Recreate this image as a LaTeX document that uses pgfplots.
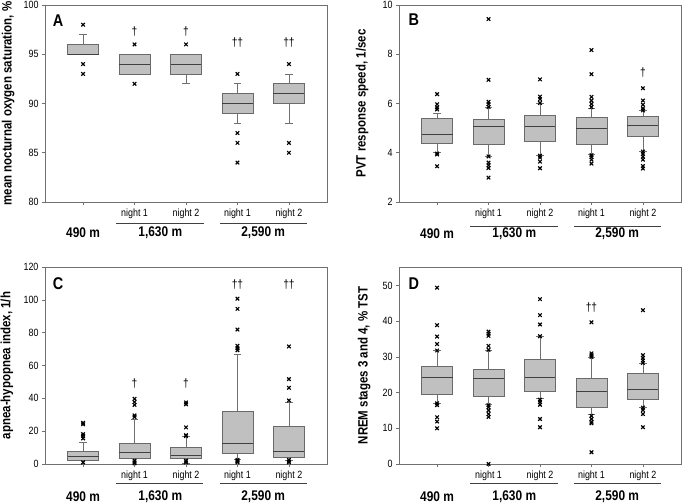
\documentclass[border=0pt]{standalone}
\usepackage{fontspec}
\setmainfont{Liberation Sans}[FakeStretch=0.85]
\usepackage{pgfplots}
\pgfplotsset{compat=1.18}
\usepgfplotslibrary{statistics}
\definecolor{boxgray}{HTML}{C0C0C0}
\definecolor{boxedge}{HTML}{6A6A6A}
\definecolor{meddark}{HTML}{404040}
\definecolor{whisk}{HTML}{707070}
\definecolor{axcol}{HTML}{707070}
\pgfplotsset{
  panel/.style={
    scale only axis, width=282pt, height=197pt, anchor=south west,
    xmin=-0.74, xmax=4.74,
    xtick={0,1,2,3,4}, xticklabels={,night 1,night 2,night 1,night 2},
    axis line style={draw=axcol, line width=0.7pt},
    tick style={draw=axcol, line width=0.6pt},
    tick align=outside, major tick length=3pt,
    xtick pos=bottom, ytick pos=left,
    tick label style={font=\fontsize{10.5}{12}\selectfont},
    ylabel style={font=\bfseries\fontsize{13.5}{15}\selectfont, anchor=center},
    /pgf/number format/assume math mode=true,
    clip=false,
    boxplot/draw direction=y,
    boxplot/box extend=0.6,
    boxplot/whisker extend=0.14,
    boxplot/every box/.style={fill=boxgray, draw=boxedge, line width=0.8pt},
    boxplot/every median/.style={draw=meddark, line width=0.9pt},
    boxplot/every whisker/.style={draw=whisk, line width=0.7pt},
  },
  bx/.style={black, mark=x, mark size=2.5pt, mark options={solid, black, line width=1.15pt}},
}
\newcommand{\groups}[2]{%
  \draw[black!75, line width=0.6pt] ({axis cs:0.64,0} |- {axis description cs:0,#1}) -- ({axis cs:2.34,0} |- {axis description cs:0,#1});
  \draw[black!75, line width=0.6pt] ({axis cs:2.66,0} |- {axis description cs:0,#1}) -- ({axis cs:4.36,0} |- {axis description cs:0,#1});
  \node[font=\bfseries\fontsize{14}{16}\selectfont] at ({axis cs:0,0} |- {axis description cs:0,#2}) {490 m};
  \node[font=\bfseries\fontsize{14}{16}\selectfont] at ({axis cs:1.5,0} |- {axis description cs:0,#2}) {1,630 m};
  \node[font=\bfseries\fontsize{14}{16}\selectfont] at ({axis cs:3.5,0} |- {axis description cs:0,#2}) {2,590 m};
}
\newcommand{\letter}[2]{\node[font=\bfseries\fontsize{17}{19}\selectfont] at (axis description cs:#1) {#2};}
\newcommand{\dg}[2]{\node[font=\fontsize{12}{14}\selectfont] at (axis cs:#1) {#2};}
\begin{document}
\begin{tikzpicture}
\useasboundingbox (0,0) rectangle (682pt,503pt);
% ---------------- A
\begin{axis}[panel, at={(45pt,301pt)}, ymin=80, ymax=100, ytick={80,85,90,95,100},
  ylabel={mean nocturnal oxygen saturation, \%}, ylabel style={at={(axis description cs:-0.131,0.5)}}]
\addplot[bx, boxplot prepared={draw position=0, lower whisker=95, lower quartile=95, median=95, upper quartile=96, upper whisker=97}] coordinates {(0,98) (0,94) (0,93)};
\addplot[bx, boxplot prepared={draw position=1, lower whisker=93, lower quartile=93, median=94, upper quartile=95, upper whisker=95}] coordinates {(1,96) (1,92)};
\addplot[bx, boxplot prepared={draw position=2, lower whisker=92, lower quartile=93, median=94, upper quartile=95, upper whisker=95}] coordinates {(2,96)};
\addplot[bx, boxplot prepared={draw position=3, lower whisker=88, lower quartile=89, median=90, upper quartile=91, upper whisker=92}] coordinates {(3,93) (3,87) (3,86) (3,84)};
\addplot[bx, boxplot prepared={draw position=4, lower whisker=88, lower quartile=90, median=91, upper quartile=92, upper whisker=93}] coordinates {(4,94) (4,86) (4,85)};
\dg{1,97.3}{†}\dg{2,97.3}{†}\dg{3,96.2}{††}\dg{4,96.2}{††}
\letter{0.046,0.92}{A}
\groups{-0.107}{-0.157}
\end{axis}
% ---------------- B
\begin{axis}[panel, at={(399pt,301pt)}, ymin=2, ymax=10, ytick={2,4,6,8,10},
  ylabel={PVT response speed, 1/sec}, ylabel style={at={(axis description cs:-0.131,0.5)}}]
\addplot[bx, boxplot prepared={draw position=0, lower whisker=4.0, lower quartile=4.37, median=4.74, upper quartile=5.40, upper whisker=5.62}] coordinates {(0,6.38) (0,5.97) (0,5.84) (0,5.76) (0,3.97) (0,3.93) (0,3.45)};
\addplot[bx, boxplot prepared={draw position=1, lower whisker=3.87, lower quartile=4.35, median=5.05, upper quartile=5.36, upper whisker=5.86}] coordinates {(1,9.43) (1,6.96) (1,6.07) (1,5.97) (1,5.86) (1,3.85) (1,3.6) (1,3.49) (1,3.38) (1,2.99)};
\addplot[bx, boxplot prepared={draw position=2, lower whisker=3.90, lower quartile=4.45, median=5.08, upper quartile=5.51, upper whisker=6.0}] coordinates {(2,6.98) (2,6.28) (2,6.18) (2,6.02) (2,3.88) (2,3.8) (2,3.64) (2,3.37)};
\addplot[bx, boxplot prepared={draw position=3, lower whisker=3.92, lower quartile=4.33, median=4.98, upper quartile=5.42, upper whisker=5.82}] coordinates {(3,8.17) (3,7.19) (3,6.27) (3,6.12) (3,5.98) (3,5.85) (3,3.9) (3,3.82) (3,3.72) (3,3.56)};
\addplot[bx, boxplot prepared={draw position=4, lower whisker=4.07, lower quartile=4.67, median=5.10, upper quartile=5.46, upper whisker=5.72}] coordinates {(4,6.62) (4,6.12) (4,5.95) (4,5.8) (4,5.72) (4,4.05) (4,3.95) (4,3.84) (4,3.72) (4,3.46) (4,3.36)};
\dg{4,7.25}{†}
\letter{0.053,0.924}{B}
\groups{-0.125}{-0.163}
\end{axis}
% ---------------- C
\begin{axis}[panel, at={(45pt,39pt)}, ymin=0, ymax=120, ytick={0,20,40,60,80,100,120},
  ylabel={apnea-hypopnea index, 1/h}, ylabel style={at={(axis description cs:-0.135,0.5)}}]
\addplot[bx, boxplot prepared={draw position=0, lower whisker=0, lower quartile=2.0, median=4.3, upper quartile=7.7, upper whisker=13.2}] coordinates {(0,25.1) (0,24.2) (0,18.2) (0,17.2) (0,15.6) (0,1)};
\addplot[bx, boxplot prepared={draw position=1, lower whisker=0, lower quartile=3.6, median=7.1, upper quartile=12.6, upper whisker=27.4}] coordinates {(1,39.7) (1,37.7) (1,36) (1,29.6) (1,28.6) (1,2) (1,1) (1,0.4)};
\addplot[bx, boxplot prepared={draw position=2, lower whisker=0.5, lower quartile=3.2, median=5.5, upper quartile=10.1, upper whisker=17}] coordinates {(2,37.5) (2,36.4) (2,22.3) (2,17.6) (2,17) (2,2) (2,1)};
\addplot[bx, boxplot prepared={draw position=3, lower whisker=3, lower quartile=6.7, median=12.8, upper quartile=32.0, upper whisker=66.5}] coordinates {(3,100.7) (3,94.5) (3,81.9) (3,72) (3,70.5) (3,69.3) (3,2.5) (3,2) (3,1.5) (3,1)};
\addplot[bx, boxplot prepared={draw position=4, lower whisker=2.5, lower quartile=4.1, median=7.9, upper quartile=22.9, upper whisker=37.5}] coordinates {(4,71.6) (4,51.7) (4,46.4) (4,38.7) (4,2.5) (4,1.5) (4,1)};
\dg{1,48.7}{†}\dg{2,48.7}{†}\dg{3,109.6}{††}\dg{4,109.6}{††}
\letter{0.046,0.914}{C}
\groups{-0.10}{-0.166}
\end{axis}
% ---------------- D
\begin{axis}[panel, at={(399pt,39pt)}, ymin=0, ymax=55.2, ytick={0,10,20,30,40,50},
  ylabel={NREM stages 3 and 4, \% TST}, ylabel style={at={(axis description cs:-0.124,0.5)}}]
\addplot[bx, boxplot prepared={draw position=0, lower whisker=17.0, lower quartile=19.6, median=24.25, upper quartile=27.3, upper whisker=31.8}] coordinates {(0,49.4) (0,38.9) (0,35.7) (0,33.6) (0,31.8) (0,17) (0,16.5) (0,13.1) (0,11.9) (0,10)};
\addplot[bx, boxplot prepared={draw position=1, lower whisker=16.8, lower quartile=18.9, median=24.0, upper quartile=26.4, upper whisker=31.8}] coordinates {(1,37.1) (1,36.5) (1,35.9) (1,33.1) (1,32) (1,16.5) (1,15.9) (1,15) (1,14) (1,13.2) (1,0)};
\addplot[bx, boxplot prepared={draw position=2, lower whisker=18.3, lower quartile=20.4, median=24.35, upper quartile=29.3, upper whisker=35.8}] coordinates {(2,46.2) (2,41.7) (2,39.1) (2,35.8) (2,18) (2,17.4) (2,16.6) (2,12.6) (2,10.3)};
\addplot[bx, boxplot prepared={draw position=3, lower whisker=13.8, lower quartile=15.8, median=20.4, upper quartile=24.0, upper whisker=30.0}] coordinates {(3,39.7) (3,31) (3,30.5) (3,30) (3,13.5) (3,12.6) (3,11.8) (3,11.4) (3,3.3)};
\addplot[bx, boxplot prepared={draw position=4, lower whisker=16.0, lower quartile=18.0, median=21.0, upper quartile=25.4, upper whisker=28.3}] coordinates {(4,43.1) (4,30.5) (4,29.7) (4,29) (4,28.3) (4,15.8) (4,15.1) (4,14) (4,10.3)};
\dg{3,43.7}{††}
\letter{0.053,0.914}{D}
\groups{-0.10}{-0.166}
\end{axis}
\end{tikzpicture}
\end{document}
